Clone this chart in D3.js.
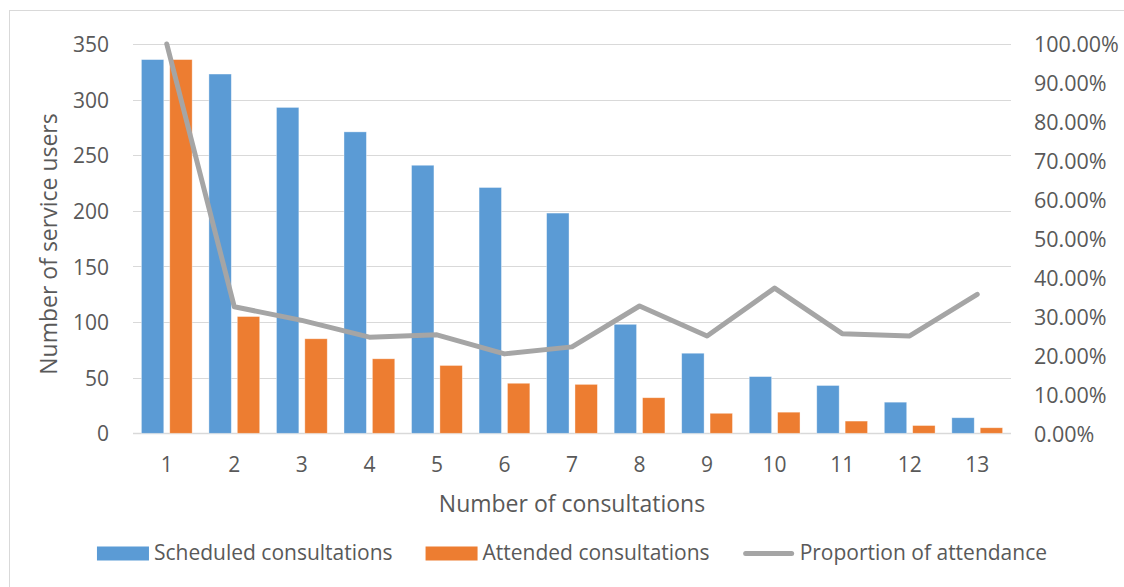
<!DOCTYPE html>
<html>
<head>
<meta charset="utf-8">
<script src="https://cdn.jsdelivr.net/npm/d3@7"></script>
<style>
  body { margin: 0; background: #fff; }
  svg text { font-family: "Open Sans", sans-serif; fill: #595959; }
</style>
</head>
<body>
<svg id="chart" width="1124" height="587"></svg>
<script>
// chart values
const consultations = ["1", "2", "3", "4", "5", "6", "7", "8", "9", "10", "11", "12", "13"];
const scheduled = [336, 323, 293, 271, 241, 221, 198, 98, 72, 51, 43, 28, 14];
const attended = [336, 105, 85, 67, 61, 45, 44, 32, 18, 19, 11, 7, 5];
const proportion = [1.0, 0.325, 0.29, 0.247, 0.253, 0.204, 0.222, 0.327, 0.25, 0.373, 0.256, 0.25, 0.357];
const leftTicks = [0, 50, 100, 150, 200, 250, 300, 350];
const rightTicks = [0, 0.1, 0.2, 0.3, 0.4, 0.5, 0.6, 0.7, 0.8, 0.9, 1.0];
const seriesNames = ["Scheduled consultations", "Attended consultations", "Proportion of attendance"];

const COLORS = { scheduled: "#5B9BD5", attended: "#ED7D31", line: "#A5A5A5", grid: "#D9D9D9" };
const PLOT = { LEFT: 133, RIGHT: 1011, TOP: 44, BOTTOM: 433.3 };

const svg = d3.select("#chart");

// outer chart border (runs off the right and bottom of the picture)
svg.append("rect")
  .attr("x", 9.5).attr("y", 10.5)
  .attr("width", 1200).attr("height", 700)
  .attr("fill", "none")
  .attr("stroke", "#D9D9D9")
  .attr("stroke-width", 1);

const x0 = d3.scaleBand()
  .domain(consultations)
  .range([PLOT.LEFT, PLOT.RIGHT])
  .padding(0);

const step = x0.bandwidth();
const x1 = d3.scaleBand()
  .domain(["scheduled", "attended"])
  .range([step * 0.124, step * 0.876])
  .paddingInner(0.21)
  .paddingOuter(0);

const yLeft = d3.scaleLinear().domain([0, 350]).range([PLOT.BOTTOM, PLOT.TOP]);
const yRight = d3.scaleLinear().domain([0, 1]).range([PLOT.BOTTOM, PLOT.TOP]);

// gridlines
svg.append("g")
  .selectAll("line")
  .data(leftTicks)
  .join("line")
  .attr("x1", PLOT.LEFT).attr("x2", PLOT.RIGHT)
  .attr("y1", (d) => Math.round(yLeft(d)) + 0.5)
  .attr("y2", (d) => Math.round(yLeft(d)) + 0.5)
  .attr("stroke", COLORS.grid)
  .attr("stroke-width", (d) => (d === 0 ? 1.5 : 1.2));

function styleTicks(g, size) {
  g.select(".domain").remove();
  g.selectAll("text")
    .attr("font-size", size)
    .style("font-family", '"Open Sans", sans-serif')
    .attr("fill", "#595959");
}

// left axis
const leftAxis = svg.append("g")
  .attr("transform", `translate(${PLOT.LEFT - 24},0)`)
  .call(d3.axisLeft(yLeft).tickValues(leftTicks).tickSize(0).tickPadding(0));
styleTicks(leftAxis, 21);
leftAxis.selectAll("text").attr("dy", "0.36em");

// right axis
const rightAxis = svg.append("g")
  .attr("transform", `translate(${PLOT.RIGHT + 23},0)`)
  .call(d3.axisRight(yRight).tickValues(rightTicks).tickSize(0).tickPadding(0)
    .tickFormat((d) => d3.format(".2f")(d * 100) + "%"));
styleTicks(rightAxis, 21.5);
rightAxis.selectAll("text").attr("dy", "0.36em");

// bottom axis
const bottomAxis = svg.append("g")
  .attr("transform", `translate(0,${PLOT.BOTTOM + 38.5})`)
  .call(d3.axisBottom(x0).tickSize(0).tickPadding(0));
styleTicks(bottomAxis, 21);
bottomAxis.selectAll("text").attr("dy", 0);

// bars
const rows = consultations.map((c, i) => ({
  cat: c,
  values: [
    { key: "scheduled", value: scheduled[i] },
    { key: "attended", value: attended[i] },
  ],
}));

svg.append("g")
  .selectAll("g")
  .data(rows)
  .join("g")
  .attr("transform", (d) => `translate(${x0(d.cat)},0)`)
  .selectAll("rect")
  .data((d) => d.values)
  .join("rect")
  .attr("x", (d) => x1(d.key))
  .attr("width", x1.bandwidth())
  .attr("y", (d) => yLeft(d.value))
  .attr("height", (d) => yLeft(0) - yLeft(d.value))
  .attr("fill", (d) => COLORS[d.key])
  .attr("stroke", "#fff")
  .attr("stroke-opacity", 0.5)
  .attr("stroke-width", 0.75);

// proportion line
const line = d3.line()
  .x((d, i) => x0(consultations[i]) + step / 2)
  .y((d) => yRight(d));

svg.append("path")
  .datum(proportion)
  .attr("d", line)
  .attr("fill", "none")
  .attr("stroke", COLORS.line)
  .attr("stroke-width", 5)
  .attr("stroke-linejoin", "round")
  .attr("stroke-linecap", "round");

// axis titles
svg.append("text")
  .attr("x", (PLOT.LEFT + PLOT.RIGHT) / 2)
  .attr("y", 512)
  .attr("text-anchor", "middle")
  .attr("font-size", 23)
  .text("Number of consultations");

svg.append("text")
  .attr("transform", `translate(57, 244) rotate(-90)`)
  .attr("text-anchor", "middle")
  .attr("font-size", 23)
  .text("Number of service users");

// legend
const legend = svg.append("g");
const items = legend.selectAll("g")
  .data(seriesNames)
  .join("g");

items.append("text")
  .attr("font-size", 21)
  .attr("y", 560)
  .text((d) => d);

const SWATCH = 52, TEXT_GAP = 5, ITEM_GAP = 33;
const widths = [];
items.each(function () {
  widths.push(d3.select(this).select("text").node().getComputedTextLength());
});
const total = d3.sum(widths) + seriesNames.length * (SWATCH + TEXT_GAP) + (seriesNames.length - 1) * ITEM_GAP;
let cursor = (PLOT.LEFT + PLOT.RIGHT) / 2 - total / 2;

items.each(function (d, i) {
  const g = d3.select(this);
  const x = cursor;
  if (i < 2) {
    g.insert("rect", "text")
      .attr("x", x).attr("y", 546.5)
      .attr("width", SWATCH).attr("height", 14)
      .attr("fill", i === 0 ? COLORS.scheduled : COLORS.attended);
  } else {
    g.insert("line", "text")
      .attr("x1", x + 3).attr("x2", x + SWATCH - 3)
      .attr("y1", 553.5).attr("y2", 553.5)
      .attr("stroke", COLORS.line)
      .attr("stroke-width", 5)
      .attr("stroke-linecap", "round");
  }
  g.select("text").attr("x", x + SWATCH + TEXT_GAP);
  cursor += SWATCH + TEXT_GAP + widths[i] + ITEM_GAP;
});
</script>
</body>
</html>
